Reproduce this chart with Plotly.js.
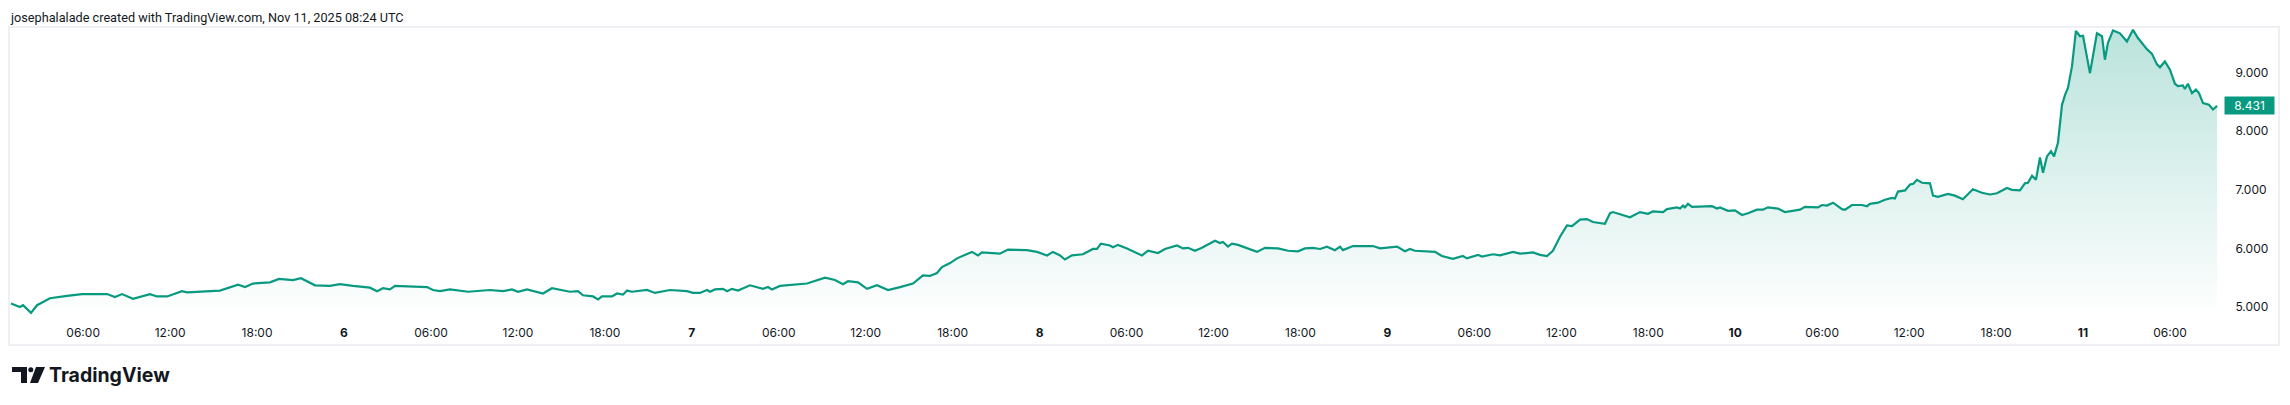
<!DOCTYPE html>
<html>
<head>
<meta charset="utf-8">
<script src="https://cdn.plot.ly/plotly-3.0.1.min.js"></script>
<style>
html,body{margin:0;padding:0;background:#ffffff;}
#chart{width:2290px;height:405px;}
</style>
</head>
<body>
<div id="chart"></div>
<script>
// Hours since 2025-11-05 00:00 UTC
const hours = [1.02,1.64,1.85,2.40,2.82,3.71,4.89,5.92,7.65,8.20,8.68,9.44,10.61,11.10,11.79,12.82,13.17,14.06,15.44,16.69,17.17,17.72,18.89,19.51,20.48,21.03,22.00,23.03,23.72,24.62,25.79,26.28,26.69,27.17,27.52,29.73,30.14,30.62,31.31,32.56,34.07,34.97,35.59,36.01,36.63,37.73,38.35,39.59,40.15,40.49,41.18,41.53,41.80,42.49,42.84,43.25,43.53,43.87,44.91,45.46,46.49,47.67,48.08,48.56,49.05,49.25,49.60,50.15,50.43,50.77,51.19,52.01,52.91,53.26,53.53,54.08,55.26,55.95,57.19,57.88,58.43,58.78,59.47,60.09,60.78,61.54,62.37,63.26,63.95,64.43,64.92,65.26,65.82,66.30,67.33,67.75,68.02,68.58,69.26,69.82,71.13,71.82,72.51,72.92,73.41,73.75,74.23,74.99,75.68,75.96,76.23,76.86,77.06,77.41,78.03,79.06,79.48,80.17,80.65,81.48,81.89,82.24,82.72,83.20,84.10,84.45,84.65,85.00,85.27,85.69,86.38,87.00,87.55,88.45,89.14,89.83,90.31,90.86,91.35,91.83,92.38,92.73,92.93,93.62,95.00,95.49,96.66,97.21,97.56,97.90,99.28,99.76,100.52,101.21,101.49,102.25,102.52,103.28,103.77,104.66,105.15,106.04,106.53,107.01,107.42,107.91,108.39,108.74,109.29,109.77,110.18,111.01,111.36,111.56,112.74,113.43,113.98,114.32,115.02,115.29,115.98,116.19,116.40,116.53,116.74,117.02,118.40,118.74,118.95,119.50,119.98,120.47,120.88,121.50,121.91,122.26,122.95,123.43,124.47,124.81,125.71,125.99,126.33,126.75,127.37,127.57,128.06,128.75,129.09,129.30,129.85,130.33,130.82,131.02,131.23,131.72,132.06,132.27,132.54,132.89,133.44,133.65,133.99,134.68,135.16,135.71,136.40,137.02,137.58,138.06,138.75,139.10,139.65,139.99,140.20,140.48,140.75,141.03,141.24,141.51,141.79,142.00,142.27,142.55,142.76,142.96,143.24,143.51,143.79,144.00,144.48,144.69,144.96,145.31,145.51,145.72,146.07,146.55,147.03,147.45,147.79,148.41,148.76,149.10,149.31,149.65,150.00,150.34,150.55,150.89,151.03,151.24,151.52,151.79,152.00,152.28,152.69,152.97,153.25];
const prices = [5.06,5.00,5.03,4.90,5.03,5.15,5.19,5.22,5.22,5.17,5.22,5.14,5.22,5.18,5.18,5.27,5.25,5.26,5.28,5.38,5.34,5.40,5.42,5.48,5.46,5.49,5.37,5.36,5.39,5.36,5.33,5.27,5.32,5.30,5.36,5.34,5.29,5.27,5.30,5.26,5.29,5.27,5.30,5.26,5.30,5.23,5.32,5.26,5.27,5.20,5.18,5.13,5.18,5.18,5.23,5.21,5.28,5.26,5.29,5.24,5.29,5.27,5.24,5.24,5.29,5.26,5.30,5.31,5.27,5.31,5.28,5.37,5.31,5.34,5.30,5.36,5.39,5.40,5.50,5.46,5.39,5.44,5.42,5.31,5.37,5.29,5.34,5.40,5.54,5.53,5.58,5.68,5.75,5.83,5.94,5.88,5.93,5.92,5.91,5.98,5.97,5.94,5.88,5.94,5.88,5.81,5.88,5.90,5.99,5.99,6.08,6.05,6.02,6.06,6.00,5.88,5.96,5.92,5.99,6.05,6.00,6.01,5.96,6.01,6.13,6.09,6.11,6.03,6.08,6.06,6.00,5.94,6.01,6.00,5.96,5.95,6.00,6.01,5.99,6.03,5.97,6.03,5.97,6.04,6.04,6.00,6.03,5.95,5.99,5.96,5.94,5.87,5.82,5.87,5.83,5.89,5.86,5.90,5.88,5.94,5.91,5.93,5.89,5.87,5.96,6.20,6.39,6.38,6.49,6.50,6.45,6.42,6.60,6.62,6.53,6.62,6.59,6.63,6.62,6.67,6.70,6.68,6.73,6.70,6.76,6.71,6.72,6.68,6.70,6.64,6.65,6.57,6.60,6.66,6.66,6.70,6.68,6.62,6.66,6.71,6.70,6.74,6.73,6.78,6.67,6.66,6.74,6.74,6.72,6.76,6.78,6.83,6.86,6.85,6.97,6.99,7.09,7.10,7.17,7.12,7.11,6.90,6.88,6.93,6.90,6.84,7.01,6.95,6.92,6.94,7.03,7.00,6.99,7.11,7.12,7.24,7.17,7.55,7.29,7.57,7.66,7.57,7.80,8.45,8.62,8.74,9.11,9.71,9.62,9.63,8.99,9.27,9.67,9.62,9.22,9.51,9.72,9.67,9.53,9.73,9.59,9.40,9.32,9.14,9.09,9.19,9.05,8.81,8.77,8.78,8.72,8.81,8.65,8.71,8.65,8.48,8.45,8.37,8.431];
const lastPrice = 8.431;
const tickHours = [6,12,18,24,30,36,42,48,54,60,66,72,78,84,90,96,102,108,114,120,126,132,138,144,150];
const tickLabels = ['06:00','12:00','18:00','<b>6</b>','06:00','12:00','18:00','<b>7</b>','06:00','12:00','18:00','<b>8</b>','06:00','12:00','18:00','<b>9</b>','06:00','12:00','18:00','<b>10</b>','06:00','12:00','18:00','<b>11</b>','06:00'];
const priceTicks = [5,6,7,8,9];
const priceTickLabels = ['5.000','6.000','7.000','8.000','9.000'];
const headerText = 'josephalalade created with TradingView.com, Nov 11, 2025 08:24 UTC';
const brandText = 'TradingView';

const BASE = Date.UTC(2025, 10, 5);
function toDate(h){ return new Date(BASE + h*3600000).toISOString().replace('T',' ').replace('Z',''); }

const W = 2290, H = 405;
const L = 10, R = 2222, T = 28, B = 318;
const px = x => (x - L) / (R - L);
const py = y => (B - y) / (B - T);

const GREEN = '#089981';
const yMin = 4.812, yMax = 9.761;

const trace = {
  type: 'scatter', mode: 'lines',
  x: hours.map(toDate), y: prices,
  line: {color: GREEN, width: 2.2},
  fill: 'tozeroy',
  fillcolor: 'rgba(8,153,129,0.12)',
  fillgradient: {type: 'vertical', start: yMin, stop: yMax,
    colorscale: [[0, 'rgba(8,153,129,0.0)'], [1, 'rgba(8,153,129,0.28)']]},
  hoverinfo: 'skip'
};

const logoPath =
  `M${px(12)},${py(367)} L${px(27)},${py(367)} L${px(27)},${py(383)} L${px(21)},${py(383)} L${px(21)},${py(372)} L${px(12)},${py(372)} Z` +
  ` M${px(36)},${py(367)} L${px(45)},${py(367)} L${px(38)},${py(383)} L${px(30)},${py(383)} Z`;

const layout = {
  width: W, height: H,
  margin: {l: L, r: W - R, t: T, b: H - B, pad: 0},
  paper_bgcolor: '#ffffff', plot_bgcolor: 'rgba(0,0,0,0)',
  showlegend: false,
  font: {family: 'Inter, "Noto Sans", sans-serif', size: 12, color: '#131722'},
  xaxis: {
    type: 'date',
    range: [toDate(0.952), toDate(153.59)],
    tickmode: 'array', tickvals: tickHours.map(toDate), ticktext: tickLabels,
    showgrid: false, zeroline: false, showline: false,
    ticks: 'outside', ticklen: 4, tickcolor: 'rgba(0,0,0,0)',
    tickfont: {family: 'Inter, sans-serif', size: 12, color: '#131722'},
    fixedrange: true
  },
  yaxis: {
    side: 'right',
    range: [yMin, yMax],
    tickmode: 'array', tickvals: priceTicks, ticktext: priceTickLabels,
    showgrid: false, zeroline: false, showline: false,
    ticks: 'outside', ticklen: 10, tickcolor: 'rgba(0,0,0,0)',
    tickfont: {family: 'Inter, sans-serif', size: 12, color: '#131722'},
    fixedrange: true
  },
  shapes: [
    {type: 'rect', xref: 'paper', yref: 'paper', x0: px(9), x1: px(2279), y0: py(345), y1: py(27),
     line: {color: '#eef0f3', width: 2}, fillcolor: 'rgba(0,0,0,0)', layer: 'below'},
    {type: 'path', xref: 'paper', yref: 'paper', path: logoPath, fillcolor: '#131722', line: {width: 0}},
    {type: 'circle', xref: 'paper', yref: 'paper', x0: px(28.3), x1: px(33.3), y0: py(372.2), y1: py(367.2),
     fillcolor: '#131722', line: {width: 0}}
  ],
  annotations: [
    {xref: 'paper', yref: 'y', x: 1, y: lastPrice, xanchor: 'left', yanchor: 'middle', xshift: 2,
     text: lastPrice.toFixed(3), showarrow: false, bgcolor: GREEN, borderpad: 2, width: 45, height: 13,
     align: 'center', font: {family: 'Inter, sans-serif', size: 12, color: '#ffffff'}},
    {xref: 'paper', yref: 'paper', x: px(8), y: py(18), xanchor: 'left', yanchor: 'middle',
     text: headerText, showarrow: false, font: {family: 'Roboto, sans-serif', size: 12.7, color: '#131722'}},
    {xref: 'paper', yref: 'paper', x: px(47), y: py(375), xanchor: 'left', yanchor: 'middle',
     text: '<b>' + brandText + '</b>', showarrow: false, font: {family: 'Inter, sans-serif', size: 19.5, color: '#131722'}}
  ]
};

Plotly.newPlot('chart', [trace], layout, {staticPlot: true, displayModeBar: false});
</script>
</body>
</html>
